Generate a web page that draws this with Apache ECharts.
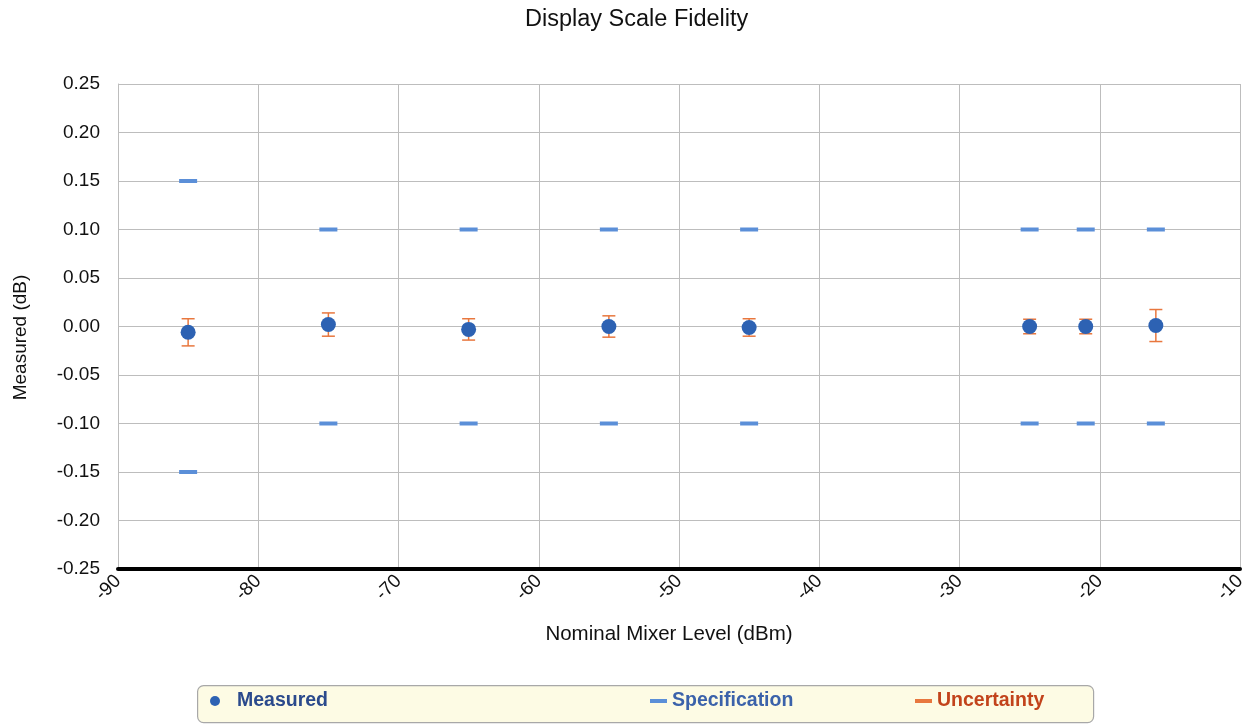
<!DOCTYPE html>
<html>
<head>
<meta charset="utf-8">
<script src="https://cdn.jsdelivr.net/npm/echarts@6/dist/echarts.min.js"></script>
<style>html,body{margin:0;padding:0;background:#fff;}#c{width:1252px;height:724px;}</style>
</head>
<body>
<div id="c"></div>
<script>
const levels = [-85, -75, -65, -55, -45, -25, -21, -16];
const measured = [-0.006, 0.002, -0.003, 0.000, -0.001, 0.000, 0.000, 0.001];
const uncertainty = [0.014, 0.012, 0.011, 0.011, 0.009, 0.0075, 0.0075, 0.0165];
const specUpper = [0.15, 0.10, 0.10, 0.10, 0.10, 0.10, 0.10, 0.10];
const specLower = [-0.15, -0.10, -0.10, -0.10, -0.10, -0.10, -0.10, -0.10];
const xTicks = { min: -90, max: -10, interval: 10 };
const yTicks = { min: -0.25, max: 0.25, interval: 0.05 };

const FONT = '"Liberation Sans", Arial, sans-serif';
const chart = echarts.init(document.getElementById('c'));

const measuredData = levels.map((x, i) => [x, measured[i]]);
const specData = levels.map((x, i) => [x, specUpper[i]]).concat(levels.map((x, i) => [x, specLower[i]]));
const errData = levels.map((x, i) => [x, measured[i] - uncertainty[i], measured[i] + uncertainty[i]]);

const legendBase = {
  top: 686, itemGap: 0,
  textStyle: { fontFamily: FONT, fontSize: 19.5, fontWeight: 'bold' },
  selectedMode: false
};

chart.setOption({
  animation: false,
  backgroundColor: '#ffffff',
  title: {
    text: 'Display Scale Fidelity', left: 520, top: 3,
    textStyle: { fontFamily: FONT, fontSize: 23.5, fontWeight: 'normal', color: '#111' }
  },
  graphic: [{
    type: 'rect', left: 197, top: 685, z: -1,
    shape: { width: 896, height: 37, r: 6 },
    style: { fill: '#fdfbe4', stroke: '#a8a8a8', lineWidth: 1.2 }
  }],
  legend: [
    Object.assign({}, legendBase, { left: 205, itemWidth: 10, itemHeight: 10,
      data: [{ name: 'Measured', icon: 'circle', textStyle: { color: '#2b4a8c', padding: [0, 0, 0, 12] } }] }),
    Object.assign({}, legendBase, { left: 645, itemWidth: 17, itemHeight: 4,
      data: [{ name: 'Specification', icon: 'rect', textStyle: { color: '#3b62aa' } }] }),
    Object.assign({}, legendBase, { left: 910, itemWidth: 17, itemHeight: 4,
      data: [{ name: 'Uncertainty', icon: 'rect', textStyle: { color: '#c2431b' } }] })
  ],
  grid: { left: 118, right: 12, top: 84, bottom: 155, containLabel: false },
  xAxis: {
    type: 'value', min: xTicks.min, max: xTicks.max, interval: xTicks.interval,
    name: 'Nominal Mixer Level (dBm)', nameLocation: 'middle', nameGap: 55,
    nameTextStyle: { fontFamily: FONT, fontSize: 20.5, color: '#111', padding: [0, 20, 0, 0] },
    axisLine: { show: true, onZero: false, lineStyle: { color: '#000', width: 4 } },
    axisTick: { show: false },
    axisLabel: { rotate: 45, fontFamily: FONT, fontSize: 19, color: '#111', margin: 9 },
    splitLine: { show: true, lineStyle: { color: '#bdbdbd', width: 1 } }
  },
  yAxis: {
    type: 'value', min: yTicks.min, max: yTicks.max, interval: yTicks.interval,
    name: 'Measured (dB)', nameLocation: 'middle', nameGap: 88,
    nameTextStyle: { fontFamily: FONT, fontSize: 19, color: '#111', padding: [0, 22, 0, 0] },
    axisLine: { show: true, lineStyle: { color: '#bdbdbd', width: 1 } },
    axisTick: { show: false },
    axisLabel: { fontFamily: FONT, fontSize: 19, color: '#111', margin: 18,
      formatter: v => v.toFixed(2) },
    splitLine: { show: true, lineStyle: { color: '#bdbdbd', width: 1 } }
  },
  series: [
    {
      name: 'Uncertainty', type: 'custom', z: 3,
      itemStyle: { color: '#e8773e' },
      encode: { x: 0, y: [1, 2] },
      data: errData,
      renderItem: function (params, api) {
        const x = api.value(0);
        const lo = api.coord([x, api.value(1)]);
        const hi = api.coord([x, api.value(2)]);
        const hw = 6.5;
        const st = { stroke: '#e8773e', lineWidth: 1.5, fill: null };
        return {
          type: 'group',
          children: [
            { type: 'line', shape: { x1: lo[0], y1: lo[1], x2: hi[0], y2: hi[1] }, style: st },
            { type: 'line', shape: { x1: lo[0] - hw, y1: lo[1], x2: lo[0] + hw, y2: lo[1] }, style: st },
            { type: 'line', shape: { x1: hi[0] - hw, y1: hi[1], x2: hi[0] + hw, y2: hi[1] }, style: st }
          ]
        };
      }
    },
    {
      name: 'Specification', type: 'scatter', z: 4,
      symbol: 'rect', symbolSize: [18, 4],
      itemStyle: { color: '#5b8fd8', opacity: 1 },
      data: specData
    },
    {
      name: 'Measured', type: 'scatter', z: 5,
      symbol: 'circle', symbolSize: 15,
      itemStyle: { color: '#2d62b3', opacity: 1 },
      data: measuredData
    }
  ]
});
</script>
</body>
</html>
